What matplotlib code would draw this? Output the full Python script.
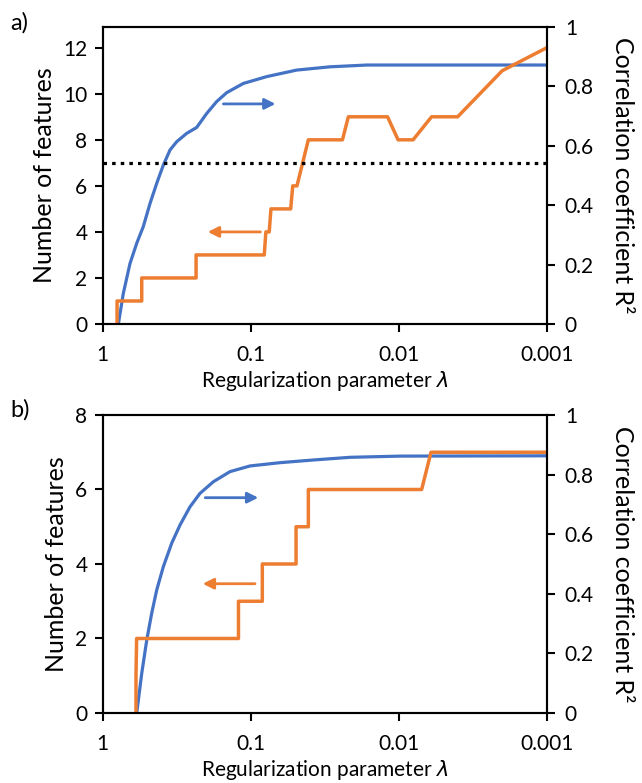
import matplotlib
matplotlib.use("Agg")
import matplotlib.pyplot as plt
from matplotlib.ticker import FixedLocator, FixedFormatter

plt.rcParams['font.family'] = ['Lato', 'DejaVu Sans']
plt.rcParams['font.size'] = 15
plt.rcParams['mathtext.fontset'] = 'dejavusans'

BLUE = '#4472C4'
ORANGE = '#ED7D31'

# panel a) - number of features (left axis), R2 (right axis)
lam_a_feat = [0.80, 0.80, 0.545, 0.545, 0.234, 0.234, 0.081, 0.079, 0.075, 0.073,
              0.0537, 0.052, 0.0487, 0.0408, 0.0240, 0.0219, 0.0119, 0.0101,
              0.0080, 0.0060, 0.0040, 0.0020, 0.001]
n_a_feat = [0, 1, 1, 2, 2, 3, 3, 4, 4, 5, 5, 6, 6, 8, 8, 9, 9, 8, 8, 9, 9, 11, 12]
lam_a_r2 = [0.784, 0.726, 0.654, 0.589, 0.532, 0.479, 0.4315, 0.3895, 0.351, 0.316,
            0.2707, 0.2317, 0.1983, 0.1698, 0.1453, 0.1122, 0.0780, 0.0489, 0.0291,
            0.0164, 0.001]
r2_a = [0.0, 0.103, 0.204, 0.272, 0.328, 0.406, 0.474, 0.535, 0.586, 0.614,
        0.642, 0.662, 0.709, 0.749, 0.779, 0.810, 0.833, 0.855, 0.866,
        0.872, 0.872]
threshold_a = 7

# panel b)
lam_b_feat = [0.596, 0.596, 0.590, 0.121, 0.121, 0.0835, 0.0835, 0.0494, 0.0494,
              0.0408, 0.0408, 0.0070, 0.00605, 0.001]
n_b_feat = [0, 1, 2, 2, 3, 3, 4, 4, 5, 5, 6, 6, 7, 7]
lam_b_r2 = [0.589, 0.545, 0.504, 0.4666, 0.4315, 0.3895, 0.3418, 0.3003, 0.2571,
            0.2202, 0.1789, 0.138, 0.1011, 0.0634, 0.0378, 0.0213, 0.0098, 0.001]
r2_b = [0.0, 0.133, 0.245, 0.335, 0.413, 0.491, 0.570, 0.631, 0.692,
        0.737, 0.776, 0.810, 0.829, 0.840, 0.849, 0.858, 0.862, 0.863]

x_ticks = [1, 0.1, 0.01, 0.001]
x_ticklabels = ['1', '0.1', '0.01', '0.001']
r2_ticks = [0, 0.2, 0.4, 0.6, 0.8, 1]
r2_ticklabels = ['0', '0.2', '0.4', '0.6', '0.8', '1']


def setup(ax, ax2, yticks, ytop):
    ax.set_xscale('log')
    ax.set_xlim(1, 0.001)
    ax.xaxis.set_major_locator(FixedLocator(x_ticks))
    ax.xaxis.set_major_formatter(FixedFormatter(x_ticklabels))
    ax.xaxis.set_minor_locator(FixedLocator([]))
    ax.set_ylim(0, ytop)
    ax.set_yticks(yticks)
    ax2.set_ylim(0, 1)
    ax2.set_yticks(r2_ticks)
    ax2.set_yticklabels(r2_ticklabels)
    for a in (ax, ax2):
        for s in a.spines.values():
            s.set_linewidth(1.5)
        a.tick_params(width=1.5, length=6, direction='out')
    ax.tick_params(axis='x', pad=9)
    ax.tick_params(axis='y', pad=5)
    ax2.tick_params(axis='y', pad=7)
    ax.set_xlabel(r'Regularization parameter $\lambda$', labelpad=3)
    ax.set_ylabel('Number of features', fontsize=18, labelpad=5)
    ax2.set_ylabel('Correlation coefficient R²', fontsize=18, rotation=270,
                   labelpad=29)
    # features (left axis) drawn over the R2 curve
    ax.set_zorder(ax2.get_zorder() + 1)
    ax.patch.set_visible(False)


def arrow(ax, x0, x1, y, color):
    ax.annotate('', xy=(x1, y), xytext=(x0, y),
                arrowprops=dict(arrowstyle='-|>', color=color, lw=2,
                                mutation_scale=16, shrinkA=0, shrinkB=0))


fig = plt.figure(figsize=(6.42, 7.83), dpi=100)

# a)
ax = fig.add_axes([0.160, 0.5862, 0.6916, 0.3793])
ax2 = ax.twinx()
ax2.plot(lam_a_r2, r2_a, color=BLUE, lw=2.3)
ax.plot(lam_a_feat, n_a_feat, color=ORANGE, lw=2.5)
ax.axhline(threshold_a, color='black', lw=2.3, linestyle=(0, (1.1, 1.6)))
setup(ax, ax2, [0, 2, 4, 6, 8, 10, 12], 12.9)
arrow(ax, 0.153, 0.068, 9.56, BLUE)
arrow(ax, 0.086, 0.195, 4.0, ORANGE)
fig.text(0.016, 0.971, 'a)', fontsize=17, va='center')

# b)
bx = fig.add_axes([0.160, 0.0894, 0.6916, 0.3806])
bx2 = bx.twinx()
bx2.plot(lam_b_r2, r2_b, color=BLUE, lw=2.3)
bx.plot(lam_b_feat, n_b_feat, color=ORANGE, lw=2.5)
setup(bx, bx2, [0, 2, 4, 6, 8], 8)
arrow(bx, 0.203, 0.0889, 5.78, BLUE)
arrow(bx, 0.0935, 0.211, 3.47, ORANGE)
fig.text(0.016, 0.476, 'b)', fontsize=17, va='center')

fig.savefig('out.png', dpi=100)
